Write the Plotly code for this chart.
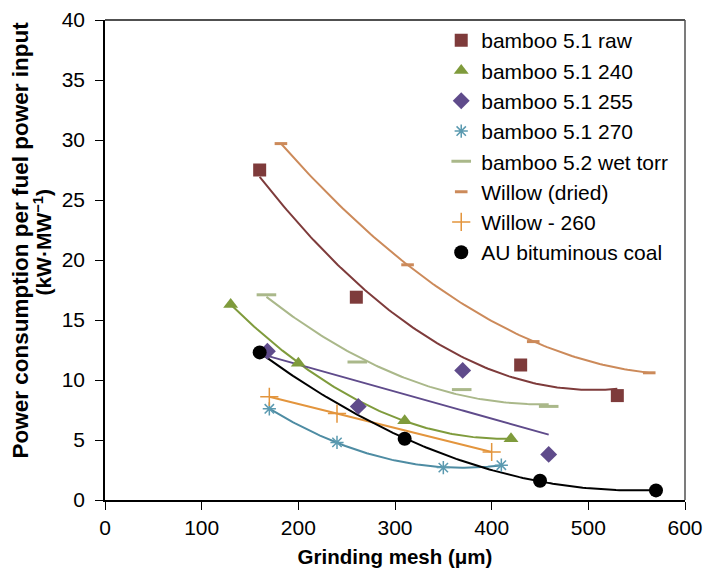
import numpy as np
import plotly.graph_objects as go

# ---- data ----
raw_x = [160, 260, 430, 530]
raw_y = [27.5, 16.9, 11.25, 8.7]

b240_x = [130, 200, 310, 420]
b240_y = [16.3, 11.4, 6.6, 5.1]

b255_x = [168, 262, 370, 459]
b255_y = [12.4, 7.8, 10.8, 3.8]

b270_x = [170, 240, 350, 410]
b270_y = [7.6, 4.8, 2.7, 2.9]

wet_x = [167, 261, 369, 459]
wet_y = [17.1, 11.5, 9.2, 7.8]

wdry_x = [182, 313, 443, 563]
wdry_y = [29.7, 19.6, 13.2, 10.6]

w260_x = [170, 240, 400]
w260_y = [8.6, 7.2, 4.0]

coal_x = [160, 310, 450, 570]
coal_y = [12.3, 5.1, 1.6, 0.8]

x_ticks = [0, 100, 200, 300, 400, 500, 600]
y_ticks = [0, 5, 10, 15, 20, 25, 30, 35, 40]

FONT = "Liberation Sans, Arial, sans-serif"

series = [
    # name, x, y, marker color, line color, symbol, size, marker line width, trend degree
    ("bamboo 5.1 raw", raw_x, raw_y, "#7E3B3B", "#7E3B3B", "square", 13, 0, 2),
    ("bamboo 5.1 240", b240_x, b240_y, "#7F9B3C", "#7F9B3C", "triangle-up", 13, 0, 2),
    ("bamboo 5.1 255", b255_x, b255_y, "#5F4B8B", "#5F4B8B", "diamond", 13, 0, 1),
    ("bamboo 5.1 270", b270_x, b270_y, "#5B9AB0", "#4E8CA3", "asterisk-open", 11, 1.5, 2),
    ("bamboo 5.2 wet torr", wet_x, wet_y, "#AAB88A", "#AAB88A", "line-ew-open", 14, 3, 2),
    ("Willow (dried)", wdry_x, wdry_y, "#CC8A5A", "#CC8A5A", "line-ew-open", 9, 3, 2),
    ("Willow - 260", w260_x, w260_y, "#E3953D", "#E3953D", "cross-thin-open", 13, 1.5, 1),
    ("AU bituminous coal", coal_x, coal_y, "#000000", "#000000", "circle", 14, 0, 2),
]

fig = go.Figure()

# trendlines (fitted to each series)
for name, xs, ys, mc, lc, sym, sz, mlw, deg in series:
    coef = np.polyfit(xs, ys, deg)
    xx = np.linspace(min(xs), max(xs), 120)
    yy = np.polyval(coef, xx)
    fig.add_trace(go.Scatter(x=xx, y=yy, mode="lines", line=dict(color=lc, width=2),
                             showlegend=False, hoverinfo="skip"))

# markers
for name, xs, ys, mc, lc, sym, sz, mlw, deg in series:
    if mlw > 0:
        marker = dict(symbol=sym, size=sz, color=mc, line=dict(color=mc, width=mlw))
    else:
        marker = dict(symbol=sym, size=sz, color=mc, line=dict(width=0))
    fig.add_trace(go.Scatter(x=xs, y=ys, mode="markers", name=name, marker=marker))

fig.update_layout(
    width=704, height=572,
    margin=dict(l=104.5, r=19, t=20, b=72, autoexpand=False),
    paper_bgcolor="white", plot_bgcolor="white",
    font=dict(family=FONT, size=21, color="#000000"),
    showlegend=True,
    legend=dict(x=0.5797, y=1.0, xanchor="left", yanchor="top",
                bgcolor="rgba(0,0,0,0)", borderwidth=0,
                font=dict(family=FONT, size=21, color="#000000"),
                itemsizing="trace"),
    shapes=[
        dict(type="line", xref="paper", yref="paper", x0=0, x1=1, y0=1, y1=1,
             line=dict(color="#505050", width=2)),
        dict(type="line", xref="paper", yref="paper", x0=1, x1=1, y0=0, y1=1,
             line=dict(color="#505050", width=1.5)),
    ],
)

fig.update_xaxes(
    range=[0, 600], tickvals=x_ticks, ticktext=[str(v) for v in x_ticks],
    showgrid=False, zeroline=False, automargin=False,
    showline=True, linecolor="#000000", linewidth=1.5, mirror=False,
    ticks="outside", ticklen=8, tickwidth=1.2, tickcolor="#000000",
    tickfont=dict(family=FONT, size=21),
    title=dict(text="<b>Grinding mesh (\u03bcm)</b>", font=dict(family=FONT, size=20.5), standoff=12),
)
fig.update_yaxes(
    range=[0, 40], tickvals=y_ticks, ticktext=[str(v) for v in y_ticks],
    showgrid=False, zeroline=False, automargin=False,
    showline=True, linecolor="#000000", linewidth=1.5, mirror=False,
    ticks="outside", ticklen=8, tickwidth=1.2, tickcolor="#000000",
    tickfont=dict(family=FONT, size=21), ticklabelstandoff=6,
)

# y-axis title in two lines
fig.add_annotation(
    text="<b>Power consumption per fuel power input</b>",
    xref="paper", yref="paper", x=(19 - 104.5) / 580.5, y=(500 - 240) / 480,
    xanchor="center", yanchor="middle",
    textangle=-90, showarrow=False, font=dict(family=FONT, size=22.5, color="#000000"),
)
fig.add_annotation(
    text="<b>(kW\u00b7MW<sup>\u22121</sup>)</b>",
    xref="paper", yref="paper", x=(42 - 104.5) / 580.5, y=(500 - 242) / 480,
    xanchor="center", yanchor="middle",
    textangle=-90, showarrow=False, font=dict(family=FONT, size=21, color="#000000"),
)

fig.write_html("out.html", config={"displayModeBar": False},
               post_script="document.body.style.margin='0px';")
